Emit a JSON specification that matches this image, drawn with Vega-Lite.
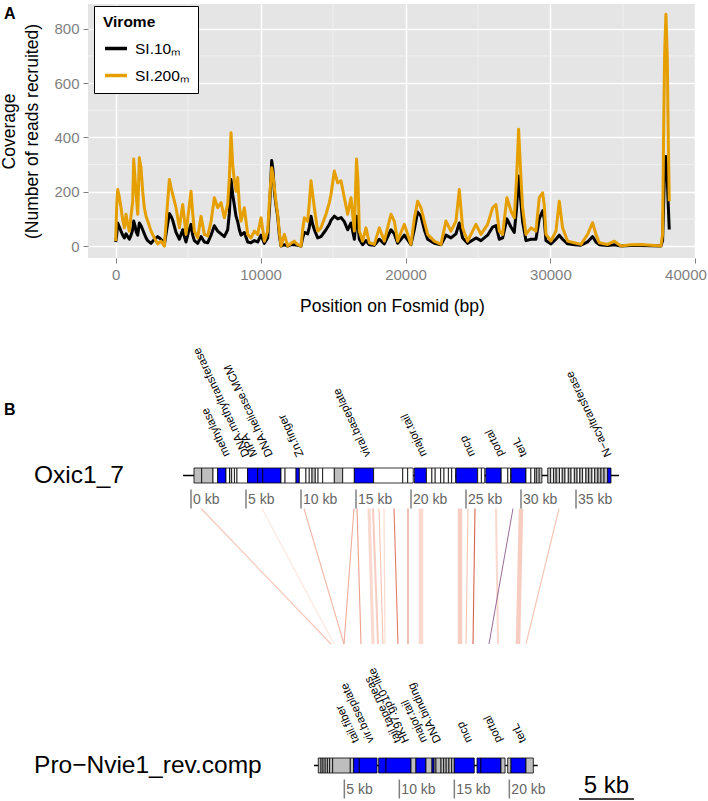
{
 "$schema": "https://vega.github.io/schema/vega-lite/v6.json",
 "padding": {"left": 0, "top": 3, "right": 0, "bottom": 0},
 "autosize": {"type": "pad"},
 "spacing": 22,
 "config": {"font": "Liberation Sans", "view": {"stroke": null},
   "axisX": {"domain": false,
             "labelColor": "#7F7F7F", "labelFontSize": 15, "labelPadding": 4, "tickColor": "#7F7F7F", "tickSize": 5, "tickWidth": 1,
             "gridColor": "#FFFFFF", "gridWidth": 1.5, "titleFontSize": 17.5, "titleFontWeight": "normal", "titleColor": "#000000", "titlePadding": 15,
             "labelFlush": 3, "labelFlushOffset": 11},
   "axisY": {"domain": false,
             "labelColor": "#7F7F7F", "labelFontSize": 15, "labelPadding": 4, "tickColor": "#7F7F7F", "tickSize": 5,
             "gridColor": "#FFFFFF", "gridWidth": 1.5, "titleFontSize": 17.5, "titleFontWeight": "normal", "titleColor": "#000000",
             "titlePadding": 12, "titleLineHeight": 23.5}
 },
 "datasets": {
  "coverage": [
   {"bp":0,"s10":15,"s200":18},{"bp":69,"s10":40,"s200":150},{"bp":138,"s10":85,"s200":208},{"bp":253,"s10":70,"s200":180},{"bp":368,"s10":55,"s200":141},{"bp":483,"s10":40,"s200":95},{"bp":598,"s10":30,"s200":67},{"bp":713,"s10":45,"s200":117},{"bp":828,"s10":35,"s200":80},{"bp":943,"s10":25,"s200":55},{"bp":1058,"s10":40,"s200":110},{"bp":1173,"s10":60,"s200":165},{"bp":1242,"s10":92,"s200":320},{"bp":1334,"s10":75,"s200":250},{"bp":1426,"s10":50,"s200":180},{"bp":1518,"s10":40,"s200":117},{"bp":1633,"s10":85,"s200":325},{"bp":1748,"s10":75,"s200":288},{"bp":1863,"s10":60,"s200":200},{"bp":1978,"s10":45,"s200":141},{"bp":2093,"s10":30,"s200":110},{"bp":2208,"s10":20,"s200":92},{"bp":2438,"s10":10,"s200":55},{"bp":2668,"s10":25,"s200":30},{"bp":2898,"s10":35,"s200":8},{"bp":3128,"s10":25,"s200":18},{"bp":3358,"s10":5,"s200":0},{"bp":3519,"s10":60,"s200":117},{"bp":3703,"s10":120,"s200":245},{"bp":3818,"s10":110,"s200":215},{"bp":3933,"s10":95,"s200":190},{"bp":4163,"s10":50,"s200":141},{"bp":4393,"s10":25,"s200":67},{"bp":4623,"s10":60,"s200":153},{"bp":4738,"s10":35,"s200":100},{"bp":4853,"s10":15,"s200":43},{"bp":5014,"s10":50,"s200":120},{"bp":5198,"s10":80,"s200":202},{"bp":5313,"s10":40,"s200":120},{"bp":5428,"s10":20,"s200":55},{"bp":5658,"s10":10,"s200":30},{"bp":5888,"s10":35,"s200":110},{"bp":6118,"s10":15,"s200":43},{"bp":6348,"s10":12,"s200":37},{"bp":6578,"s10":40,"s200":90},{"bp":6808,"s10":75,"s200":178},{"bp":7038,"s10":55,"s200":141},{"bp":7268,"s10":45,"s200":160},{"bp":7498,"s10":35,"s200":104},{"bp":7728,"s10":60,"s200":153},{"bp":7843,"s10":120,"s200":250},{"bp":7958,"s10":245,"s200":417},{"bp":8073,"s10":190,"s200":300},{"bp":8188,"s10":150,"s200":240},{"bp":8303,"s10":110,"s200":202},{"bp":8418,"s10":90,"s200":252},{"bp":8533,"s10":60,"s200":150},{"bp":8648,"s10":40,"s200":92},{"bp":8878,"s10":50,"s200":141},{"bp":9108,"s10":15,"s200":43},{"bp":9338,"s10":12,"s200":30},{"bp":9568,"s10":20,"s200":55},{"bp":9798,"s10":15,"s200":43},{"bp":10028,"s10":40,"s200":104},{"bp":10258,"s10":10,"s200":18},{"bp":10488,"s10":30,"s200":55},{"bp":10626,"s10":150,"s200":180},{"bp":10764,"s10":315,"s200":288},{"bp":10856,"s10":280,"s200":260},{"bp":10948,"s10":200,"s200":215},{"bp":11063,"s10":150,"s200":160},{"bp":11178,"s10":110,"s200":117},{"bp":11293,"s10":40,"s200":50},{"bp":11408,"s10":0,"s200":0},{"bp":11638,"s10":5,"s200":43},{"bp":11868,"s10":0,"s200":0},{"bp":12098,"s10":5,"s200":10},{"bp":12328,"s10":5,"s200":18},{"bp":12558,"s10":3,"s200":5},{"bp":12788,"s10":0,"s200":0},{"bp":12903,"s10":30,"s200":60},{"bp":13018,"s10":50,"s200":104},{"bp":13248,"s10":45,"s200":92},{"bp":13363,"s10":70,"s200":160},{"bp":13478,"s10":110,"s200":240},{"bp":13593,"s10":80,"s200":190},{"bp":13708,"s10":60,"s200":141},{"bp":13938,"s10":30,"s200":55},{"bp":14168,"s10":35,"s200":67},{"bp":14513,"s10":60,"s200":117},{"bp":14743,"s10":80,"s200":160},{"bp":14858,"s10":95,"s200":190},{"bp":15088,"s10":110,"s200":276},{"bp":15318,"s10":100,"s200":233},{"bp":15548,"s10":105,"s200":240},{"bp":15778,"s10":90,"s200":178},{"bp":16008,"s10":60,"s200":117},{"bp":16238,"s10":85,"s200":178},{"bp":16468,"s10":25,"s200":55},{"bp":16620,"s10":110,"s200":320},{"bp":16720,"s10":80,"s200":240},{"bp":16811,"s10":25,"s200":55},{"bp":17041,"s10":5,"s200":18},{"bp":17271,"s10":20,"s200":67},{"bp":17501,"s10":5,"s200":12},{"bp":17846,"s10":3,"s200":6},{"bp":18191,"s10":25,"s200":67},{"bp":18536,"s10":8,"s200":18},{"bp":18996,"s10":60,"s200":117},{"bp":19226,"s10":45,"s200":92},{"bp":19456,"s10":10,"s200":18},{"bp":19916,"s10":40,"s200":80},{"bp":20376,"s10":5,"s200":6},{"bp":20606,"s10":60,"s200":100},{"bp":20836,"s10":125,"s200":165},{"bp":21066,"s10":110,"s200":141},{"bp":21296,"s10":60,"s200":92},{"bp":21526,"s10":25,"s200":43},{"bp":21986,"s10":10,"s200":18},{"bp":22446,"s10":5,"s200":6},{"bp":22791,"s10":40,"s200":92},{"bp":23136,"s10":30,"s200":55},{"bp":23481,"s10":45,"s200":92},{"bp":23711,"s10":85,"s200":208},{"bp":23941,"s10":30,"s200":67},{"bp":24286,"s10":10,"s200":18},{"bp":24861,"s10":30,"s200":80},{"bp":25206,"s10":20,"s200":43},{"bp":25666,"s10":40,"s200":80},{"bp":26011,"s10":70,"s200":141},{"bp":26241,"s10":75,"s200":153},{"bp":26471,"s10":25,"s200":55},{"bp":26701,"s10":30,"s200":43},{"bp":27000,"s10":100,"s200":178},{"bp":27276,"s10":70,"s200":129},{"bp":27506,"s10":50,"s200":104},{"bp":27667,"s10":140,"s200":250},{"bp":27805,"s10":258,"s200":430},{"bp":27966,"s10":160,"s200":250},{"bp":28081,"s10":90,"s200":141},{"bp":28311,"s10":20,"s200":43},{"bp":28656,"s10":25,"s200":67},{"bp":29001,"s10":25,"s200":55},{"bp":29231,"s10":100,"s200":178},{"bp":29461,"s10":130,"s200":196},{"bp":29576,"s10":100,"s200":150},{"bp":29691,"s10":20,"s200":43},{"bp":30036,"s10":8,"s200":18},{"bp":30381,"s10":25,"s200":55},{"bp":30611,"s10":40,"s200":165},{"bp":30841,"s10":25,"s200":67},{"bp":31186,"s10":8,"s200":18},{"bp":31646,"s10":5,"s200":12},{"bp":32106,"s10":3,"s200":6},{"bp":32566,"s10":15,"s200":43},{"bp":32911,"s10":35,"s200":86},{"bp":33141,"s10":15,"s200":43},{"bp":33371,"s10":5,"s200":12},{"bp":33946,"s10":2,"s200":6},{"bp":34406,"s10":5,"s200":18},{"bp":34866,"s10":0,"s200":0},{"bp":35556,"s10":2,"s200":5},{"bp":36236,"s10":2,"s200":6},{"bp":36926,"s10":1,"s200":3},{"bp":37626,"s10":0,"s200":0},{"bp":37741,"s10":20,"s200":43},{"bp":37810,"s10":150,"s200":400},{"bp":37879,"s10":280,"s200":700},{"bp":37971,"s10":330,"s200":853},{"bp":38063,"s10":250,"s200":700},{"bp":38132,"s10":150,"s200":400},{"bp":38201,"s10":61,"s200":165}
  ],
  "genes": [
   {"track":1,"start":0.27,"end":0.97,"type":"hit"},{"track":1,"start":0.97,"end":2.0,"type":"hit"},{"track":1,"start":2.0,"end":2.43,"type":"none"},{"track":1,"start":2.43,"end":3.18,"type":"annot"},{"track":1,"start":3.18,"end":3.5,"type":"none"},{"track":1,"start":3.5,"end":3.7,"type":"hit"},{"track":1,"start":3.7,"end":3.95,"type":"none"},{"track":1,"start":3.95,"end":4.18,"type":"none"},{"track":1,"start":4.18,"end":5.15,"type":"none"},{"track":1,"start":5.15,"end":6.06,"type":"annot"},{"track":1,"start":6.06,"end":6.52,"type":"annot"},{"track":1,"start":6.52,"end":8.18,"type":"annot"},{"track":1,"start":8.18,"end":8.55,"type":"none"},{"track":1,"start":8.55,"end":9.55,"type":"none"},{"track":1,"start":9.55,"end":9.85,"type":"annot"},{"track":1,"start":9.85,"end":10.45,"type":"none"},{"track":1,"start":10.45,"end":10.75,"type":"none"},{"track":1,"start":10.75,"end":11.0,"type":"none"},{"track":1,"start":11.0,"end":11.3,"type":"hit"},{"track":1,"start":11.3,"end":11.55,"type":"none"},{"track":1,"start":11.55,"end":11.97,"type":"none"},{"track":1,"start":11.97,"end":13.03,"type":"none"},{"track":1,"start":13.03,"end":13.79,"type":"hit"},{"track":1,"start":13.79,"end":14.85,"type":"none"},{"track":1,"start":14.85,"end":16.6,"type":"annot"},{"track":1,"start":16.6,"end":19.25,"type":"none"},{"track":1,"start":19.25,"end":19.7,"type":"none"},{"track":1,"start":19.7,"end":20.2,"type":"none"},{"track":1,"start":20.3,"end":21.4,"type":"annot"},{"track":1,"start":21.4,"end":21.9,"type":"none"},{"track":1,"start":21.9,"end":22.2,"type":"none"},{"track":1,"start":22.2,"end":22.7,"type":"none"},{"track":1,"start":22.7,"end":23.0,"type":"none"},{"track":1,"start":23.0,"end":23.4,"type":"none"},{"track":1,"start":23.4,"end":23.7,"type":"none"},{"track":1,"start":23.7,"end":24.05,"type":"none"},{"track":1,"start":24.1,"end":26.06,"type":"annot"},{"track":1,"start":26.06,"end":26.4,"type":"none"},{"track":1,"start":26.4,"end":26.7,"type":"none"},{"track":1,"start":26.8,"end":28.2,"type":"annot"},{"track":1,"start":28.2,"end":28.8,"type":"none"},{"track":1,"start":28.8,"end":29.05,"type":"none"},{"track":1,"start":29.1,"end":30.45,"type":"annot"},{"track":1,"start":30.45,"end":30.9,"type":"none"},{"track":1,"start":30.9,"end":31.25,"type":"none"},{"track":1,"start":31.25,"end":31.45,"type":"hit"},{"track":1,"start":31.45,"end":31.65,"type":"none"},{"track":1,"start":31.65,"end":31.9,"type":"hit"},
   {"track":1,"start":32.43,"end":32.7,"type":"hit"},{"track":1,"start":32.7,"end":32.95,"type":"none"},{"track":1,"start":32.95,"end":33.2,"type":"hit"},{"track":1,"start":33.2,"end":33.5,"type":"hit"},{"track":1,"start":33.5,"end":33.75,"type":"none"},{"track":1,"start":33.75,"end":34.0,"type":"hit"},{"track":1,"start":34.0,"end":34.3,"type":"none"},{"track":1,"start":34.3,"end":34.55,"type":"hit"},{"track":1,"start":34.55,"end":34.85,"type":"none"},{"track":1,"start":34.85,"end":35.1,"type":"hit"},{"track":1,"start":35.1,"end":35.35,"type":"none"},{"track":1,"start":35.35,"end":35.6,"type":"hit"},{"track":1,"start":35.6,"end":35.9,"type":"none"},{"track":1,"start":35.9,"end":36.15,"type":"hit"},{"track":1,"start":36.15,"end":36.45,"type":"hit"},{"track":1,"start":36.45,"end":36.7,"type":"none"},{"track":1,"start":36.7,"end":37.0,"type":"hit"},{"track":1,"start":37.0,"end":37.27,"type":"hit"},{"track":1,"start":37.27,"end":37.55,"type":"hit"},{"track":1,"start":37.55,"end":37.88,"type":"hit"},{"track":1,"start":37.88,"end":38.18,"type":"annot"},
   {"track":0,"start":11.57,"end":11.82,"type":"hit"},{"track":0,"start":11.82,"end":12.0,"type":"hit"},{"track":0,"start":12.0,"end":12.2,"type":"hit"},{"track":0,"start":12.2,"end":12.4,"type":"hit"},{"track":0,"start":12.4,"end":12.6,"type":"hit"},{"track":0,"start":12.6,"end":12.88,"type":"hit"},{"track":0,"start":12.88,"end":14.48,"type":"hit"},{"track":0,"start":14.48,"end":14.79,"type":"hit"},{"track":0,"start":14.79,"end":15.3,"type":"annot"},{"track":0,"start":15.3,"end":16.91,"type":"annot"},{"track":0,"start":17.06,"end":17.73,"type":"annot"},{"track":0,"start":17.73,"end":20.0,"type":"annot"},{"track":0,"start":20.0,"end":20.45,"type":"hit"},{"track":0,"start":20.45,"end":21.36,"type":"annot"},{"track":0,"start":21.36,"end":21.91,"type":"hit"},{"track":0,"start":21.91,"end":22.1,"type":"annot"},{"track":0,"start":22.1,"end":22.27,"type":"hit"},{"track":0,"start":22.27,"end":22.73,"type":"hit"},{"track":0,"start":22.73,"end":22.97,"type":"hit"},{"track":0,"start":22.97,"end":23.2,"type":"hit"},{"track":0,"start":23.2,"end":23.45,"type":"hit"},{"track":0,"start":23.45,"end":23.7,"type":"hit"},{"track":0,"start":23.7,"end":23.94,"type":"hit"},{"track":0,"start":23.94,"end":25.75,"type":"annot"},{"track":0,"start":26.0,"end":26.36,"type":"annot"},{"track":0,"start":26.36,"end":28.18,"type":"annot"},{"track":0,"start":28.18,"end":28.55,"type":"hit"},{"track":0,"start":28.79,"end":29.09,"type":"hit"},{"track":0,"start":29.09,"end":30.45,"type":"annot"},{"track":0,"start":30.45,"end":31.12,"type":"hit"}
  ],
  "links": [
   {"top":0.909,"bot":12.727,"ident":45,"span":0.05},{"top":6.455,"bot":13.0,"ident":30,"span":0.05},{"top":10.273,"bot":13.909,"ident":50,"span":0.05},{"top":14.818,"bot":13.909,"ident":55,"span":0.05},{"top":15.091,"bot":15.455,"ident":60,"span":0.05},{"top":16.182,"bot":16.545,"ident":35,"span":0.25},{"top":16.545,"bot":17.0,"ident":40,"span":0.15},{"top":17.091,"bot":17.455,"ident":45,"span":0.05},{"top":17.545,"bot":17.636,"ident":35,"span":0.05},{"top":18.455,"bot":18.818,"ident":75,"span":0.05},{"top":19.727,"bot":19.727,"ident":70,"span":0.05},{"top":20.909,"bot":20.909,"ident":35,"span":0.4},{"top":24.455,"bot":24.455,"ident":40,"span":0.4},{"top":25.182,"bot":25.0,"ident":45,"span":0.05},{"top":25.818,"bot":25.636,"ident":85,"span":0.05},{"top":27.727,"bot":27.909,"ident":35,"span":0.15},{"top":30.0,"bot":29.727,"ident":40,"span":0.4},{"top":33.455,"bot":30.455,"ident":45,"span":0.05}
  ],
  "ticks": [
   {"track":1,"pos":0,"label":"0 kb"},{"track":1,"pos":5,"label":"5 kb"},{"track":1,"pos":10,"label":"10 kb"},{"track":1,"pos":15,"label":"15 kb"},{"track":1,"pos":20,"label":"20 kb"},{"track":1,"pos":25,"label":"25 kb"},{"track":1,"pos":30,"label":"30 kb"},{"track":1,"pos":35,"label":"35 kb"},
   {"track":0,"pos":13.94,"label":"5 kb"},{"track":0,"pos":18.94,"label":"10 kb"},{"track":0,"pos":23.94,"label":"15 kb"},{"track":0,"pos":28.94,"label":"20 kb"}
  ],
  "labels": [
   {"track":1,"pos":3.3,"text":"methylase"},{"track":1,"pos":5.1,"text":"DNA.methyltransferase"},{"track":1,"pos":5.8,"text":"MPA"},{"track":1,"pos":7.2,"text":"DNA.helicase.MCM"},{"track":1,"pos":10.0,"text":"Zn.finger"},{"track":1,"pos":16.1,"text":"viral.baseplate"},{"track":1,"pos":21.2,"text":"major.tail"},{"track":1,"pos":25.6,"text":"mcp"},{"track":1,"pos":28.2,"text":"portal"},{"track":1,"pos":30.3,"text":"terL"},{"track":1,"pos":38.0,"text":"N−acyltransferase"},
   {"track":0,"pos":15.05,"text":"tail.fiber"},{"track":0,"pos":16.41,"text":"vir.baseplate"},{"track":0,"pos":18.86,"text":"tail.tape.meas"},{"track":0,"pos":19.59,"text":"HK97.gp10−like"},{"track":0,"pos":21.23,"text":"major.tail"},{"track":0,"pos":22.5,"text":"DNA.binding"},{"track":0,"pos":25.32,"text":"mcp"},{"track":0,"pos":28.05,"text":"portal"},{"track":0,"pos":30.23,"text":"terL"}
  ]
 },
 "vconcat": [
  {
   "width": 608,
   "height": 254,
   "view": {"fill": "#E5E5E5", "stroke": null},
   "layer": [
    {
     "data": {"values": [{"v":5000},{"v":15000},{"v":25000},{"v":35000}]},
     "mark": {"type": "rule", "color": "#F2F2F2", "strokeWidth": 0.8},
     "encoding": {"x": {"field": "v", "type": "quantitative", "scale": {"domain": [-1912, 40047], "nice": false, "zero": false}, "title": "Position on Fosmid (bp)", "axis": {"values": [0, 10000, 20000, 30000, 40000], "format": "d"}}}
    },
    {
     "data": {"values": [{"h":100},{"h":300},{"h":500},{"h":700}]},
     "mark": {"type": "rule", "color": "#F2F2F2", "strokeWidth": 0.8},
     "encoding": {"y": {"field": "h", "type": "quantitative", "scale": {"domain": [-44, 891], "nice": false, "zero": false}, "title": ["Coverage", "(Number of reads recruited)"], "axis": {"values": [0, 200, 400, 600, 800]}}}
    },
    {
     "data": {"name": "coverage"},
     "transform": [{"fold": ["s10", "s200"], "as": ["virome", "cov"]}],
     "mark": {"type": "line", "strokeWidth": 3, "strokeJoin": "round"},
     "encoding": {
      "x": {"field": "bp", "type": "quantitative", "scale": {"domain": [-1912, 40047], "nice": false, "zero": false}, "title": "Position on Fosmid (bp)", "axis": {"values": [0, 10000, 20000, 30000, 40000], "format": "d"}},
      "y": {"field": "cov", "type": "quantitative", "scale": {"domain": [-44, 891], "nice": false, "zero": false}, "title": ["Coverage", "(Number of reads recruited)"], "axis": {"values": [0, 200, 400, 600, 800]}},
      "color": {"field": "virome", "type": "nominal", "scale": {"domain": ["s10", "s200"], "range": ["#000000", "#E69F00"]},
                "legend": {"title": "Virome", "orient": "none", "legendX": 6, "legendY": 2, "padding": 9, "strokeColor": "#000000",
                           "fillColor": "#FFFFFF", "titleFontSize": 15.5, "titleFontWeight": "bold", "titleColor": "#000000", "titlePadding": 5,
                           "labelFontSize": 15.5, "labelColor": "#000000", "labelOffset": 6, "symbolType": "stroke", "symbolSize": 484,
                           "symbolStrokeWidth": 3.5, "rowPadding": 5,
                           "labelExpr": "datum.value === 's10' ? 'SI.10ₘ' : 'SI.200ₘ'"}}
     }
    },
    {
     "data": {"values": [{"t": "A"}]},
     "mark": {"type": "text", "fontSize": 16, "fontWeight": "bold", "align": "left", "baseline": "top", "color": "#000000"},
     "encoding": {
      "x": {"datum": -7709, "type": "quantitative", "scale": {"domain": [-1912, 40047], "nice": false, "zero": false}, "title": "Position on Fosmid (bp)", "axis": {"values": [0, 10000, 20000, 30000, 40000], "format": "d"}},
      "y": {"datum": 884, "type": "quantitative", "scale": {"domain": [-44, 891], "nice": false, "zero": false}, "title": ["Coverage", "(Number of reads recruited)"], "axis": {"values": [0, 200, 400, 600, 800]}},
      "text": {"field": "t"}
     }
    }
   ]
  },
  {
   "width": 621,
   "height": 462,
   "view": {"stroke": null},
   "layer": [
    {
     "data": {"name": "links"},
     "mark": {"type": "rule", "yOffset": 33, "y2Offset": -121.5, "opacity": 0.9},
     "encoding": {
      "x": {"field": "top", "type": "quantitative", "scale": {"domain": [-9.364, 47.091], "nice": false, "zero": false, "padding": 0}, "axis": null},
      "x2": {"field": "bot"},
      "y": {"datum": 1, "type": "quantitative", "scale": {"domain": [0, 1], "range": [428.5, 138.5], "nice": false, "zero": false, "padding": 0}, "axis": null},
      "y2": {"datum": 0},
      "color": {"field": "ident", "type": "quantitative", "scale": {"domain": [30, 90], "range": ["#FBE2DA", "#CF3F2E"]}, "legend": null},
      "strokeWidth": {"field": "span", "type": "quantitative", "scale": {"domain": [0, 0.4], "range": [0.6, 4.5]}, "legend": null}
     }
    },
    {
     "data": {"values": [{"top": 29.273, "bot": 27.091}]},
     "mark": {"type": "rule", "yOffset": 33, "y2Offset": -121.5, "color": "#8E5A8C", "strokeWidth": 0.9},
     "encoding": {
      "x": {"field": "top", "type": "quantitative", "scale": {"domain": [-9.364, 47.091], "nice": false, "zero": false, "padding": 0}, "axis": null},
      "x2": {"field": "bot"},
      "y": {"datum": 1, "type": "quantitative", "scale": {"domain": [0, 1], "range": [428.5, 138.5], "nice": false, "zero": false, "padding": 0}, "axis": null},
      "y2": {"datum": 0}
     }
    },
    {
     "data": {"values": [{"track": 1, "s": -0.727, "e": 38.91}, {"track": 0, "s": 11.18, "e": 31.52}]},
     "mark": {"type": "rule", "color": "#000000", "strokeWidth": 1.5},
     "encoding": {
      "x": {"field": "s", "type": "quantitative", "scale": {"domain": [-9.364, 47.091], "nice": false, "zero": false, "padding": 0}, "axis": null},
      "x2": {"field": "e"},
      "y": {"field": "track", "type": "quantitative", "scale": {"domain": [0, 1], "range": [428.5, 138.5], "nice": false, "zero": false, "padding": 0}, "axis": null}
     }
    },
    {
     "data": {"name": "genes"},
     "mark": {"type": "bar", "orient": "horizontal", "height": 15, "stroke": "#000000", "strokeWidth": 0.8},
     "encoding": {
      "x": {"field": "start", "type": "quantitative", "scale": {"domain": [-9.364, 47.091], "nice": false, "zero": false, "padding": 0}, "axis": null},
      "x2": {"field": "end"},
      "y": {"field": "track", "type": "quantitative", "scale": {"domain": [0, 1], "range": [428.5, 138.5], "nice": false, "zero": false, "padding": 0}, "axis": null},
      "fill": {"field": "type", "type": "nominal", "scale": {"domain": ["annot", "hit", "none"], "range": ["#0000FF", "#BEBEBE", "#FFFFFF"]}, "legend": null}
     }
    },
    {
     "data": {"name": "ticks"},
     "mark": {"type": "rule", "color": "#7F7F7F", "strokeWidth": 1.5, "yOffset": 14, "y2Offset": 33},
     "encoding": {
      "x": {"field": "pos", "type": "quantitative", "scale": {"domain": [-9.364, 47.091], "nice": false, "zero": false, "padding": 0}, "axis": null},
      "y": {"field": "track", "type": "quantitative", "scale": {"domain": [0, 1], "range": [428.5, 138.5], "nice": false, "zero": false, "padding": 0}, "axis": null},
      "y2": {"field": "track"}
     }
    },
    {
     "data": {"name": "ticks"},
     "mark": {"type": "text", "align": "left", "baseline": "middle", "dx": 2, "yOffset": 24, "fontSize": 14, "color": "#666666"},
     "encoding": {
      "x": {"field": "pos", "type": "quantitative", "scale": {"domain": [-9.364, 47.091], "nice": false, "zero": false, "padding": 0}, "axis": null},
      "y": {"field": "track", "type": "quantitative", "scale": {"domain": [0, 1], "range": [428.5, 138.5], "nice": false, "zero": false, "padding": 0}, "axis": null},
      "text": {"field": "label"}
     }
    },
    {
     "data": {"name": "labels"},
     "transform": [{"filter": "datum.track == 1"}],
     "mark": {"type": "text", "align": "left", "baseline": "middle", "angle": 245, "yOffset": -19.5, "fontSize": 11.5, "color": "#000000"},
     "encoding": {
      "x": {"field": "pos", "type": "quantitative", "scale": {"domain": [-9.364, 47.091], "nice": false, "zero": false, "padding": 0}, "axis": null},
      "y": {"field": "track", "type": "quantitative", "scale": {"domain": [0, 1], "range": [428.5, 138.5], "nice": false, "zero": false, "padding": 0}, "axis": null},
      "text": {"field": "text"}
     }
    },
    {
     "data": {"name": "labels"},
     "transform": [{"filter": "datum.track == 0"}],
     "mark": {"type": "text", "align": "left", "baseline": "middle", "angle": 245, "yOffset": -23.5, "fontSize": 11.5, "color": "#000000"},
     "encoding": {
      "x": {"field": "pos", "type": "quantitative", "scale": {"domain": [-9.364, 47.091], "nice": false, "zero": false, "padding": 0}, "axis": null},
      "y": {"field": "track", "type": "quantitative", "scale": {"domain": [0, 1], "range": [428.5, 138.5], "nice": false, "zero": false, "padding": 0}, "axis": null},
      "text": {"field": "text"}
     }
    },
    {
     "data": {"values": [{"track": 1, "pos": -14.27, "name": "Oxic1_7"}, {"track": 0, "pos": -14.27, "name": "Pro−Nvie1_rev.comp"}]},
     "mark": {"type": "text", "align": "left", "baseline": "middle", "fontSize": 24.5, "color": "#000000"},
     "encoding": {
      "x": {"field": "pos", "type": "quantitative", "scale": {"domain": [-9.364, 47.091], "nice": false, "zero": false, "padding": 0}, "axis": null},
      "y": {"field": "track", "type": "quantitative", "scale": {"domain": [0, 1], "range": [428.5, 138.5], "nice": false, "zero": false, "padding": 0}, "axis": null},
      "text": {"field": "name"}
     }
    },
    {
     "data": {"values": [{"t": "B"}]},
     "mark": {"type": "text", "align": "left", "baseline": "middle", "fontSize": 16, "fontWeight": "bold", "yOffset": -65.5, "color": "#000000"},
     "encoding": {
      "x": {"datum": -17.0, "type": "quantitative", "scale": {"domain": [-9.364, 47.091], "nice": false, "zero": false, "padding": 0}, "axis": null},
      "y": {"datum": 1, "type": "quantitative", "scale": {"domain": [0, 1], "range": [428.5, 138.5], "nice": false, "zero": false, "padding": 0}, "axis": null},
      "text": {"field": "t"}
     }
    },
    {
     "data": {"values": [{"a": 35.27, "b": 40.27}]},
     "mark": {"type": "rule", "color": "#000000", "strokeWidth": 1.5, "yOffset": 33.5, "y2Offset": 33.5},
     "encoding": {
      "x": {"field": "a", "type": "quantitative", "scale": {"domain": [-9.364, 47.091], "nice": false, "zero": false, "padding": 0}, "axis": null},
      "x2": {"field": "b"},
      "y": {"datum": 0, "type": "quantitative", "scale": {"domain": [0, 1], "range": [428.5, 138.5], "nice": false, "zero": false, "padding": 0}, "axis": null},
      "y2": {"datum": 0}
     }
    },
    {
     "data": {"values": [{"c": 37.77, "t": "5 kb"}]},
     "mark": {"type": "text", "align": "center", "baseline": "middle", "fontSize": 24, "yOffset": 20, "color": "#000000"},
     "encoding": {
      "x": {"field": "c", "type": "quantitative", "scale": {"domain": [-9.364, 47.091], "nice": false, "zero": false, "padding": 0}, "axis": null},
      "y": {"datum": 0, "type": "quantitative", "scale": {"domain": [0, 1], "range": [428.5, 138.5], "nice": false, "zero": false, "padding": 0}, "axis": null},
      "text": {"field": "t"}
     }
    }
   ]
  }
 ]
}
